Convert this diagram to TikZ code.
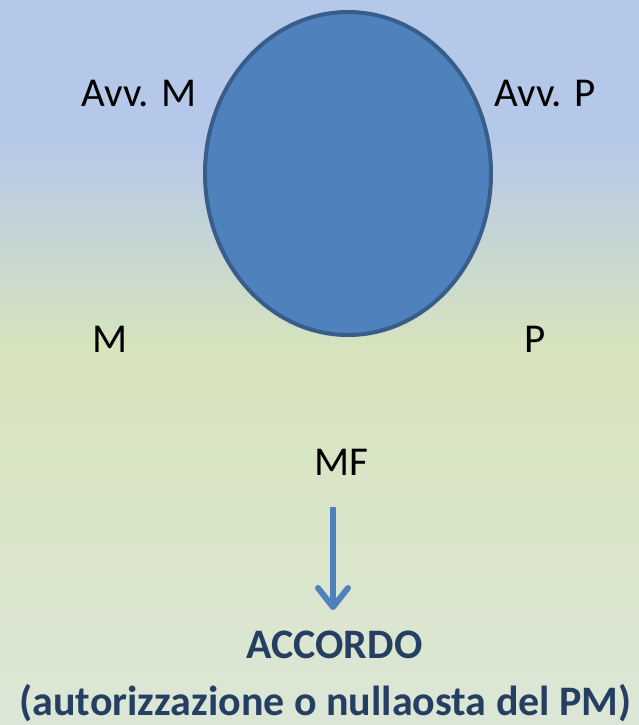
\documentclass[tikz,border=0pt]{standalone}
\usepackage{fontspec}
\setmainfont{Carlito}
\usetikzlibrary{shapes.geometric, arrows.meta, positioning}

\definecolor{bgtop}{HTML}{B6C8E9}
\definecolor{bgmid}{HTML}{D7E4BD}
\definecolor{bgbot}{HTML}{DCE6D6}
\definecolor{ovalfill}{HTML}{4F81BD}
\definecolor{ovaldraw}{HTML}{385D8A}
\definecolor{darktext}{HTML}{243F62}

\begin{document}
\begin{tikzpicture}[x=1pt, y=-1pt,
		lbl/.style={anchor=base, inner sep=0pt, font=\fontsize{41}{49}\selectfont},
		boldlbl/.style={lbl, text=darktext, font=\fontsize{42}{50}\selectfont\bfseries},
		oval/.style={ellipse, draw=ovaldraw, fill=ovalfill, line width=4pt},
		flow/.style={-{Straight Barb[length=19pt, width=30pt, line cap=round, line join=round]}, line width=6pt, draw=ovalfill},
		]

		% Background
		\useasboundingbox (0,0) rectangle (639,725);
		\fill[bgtop] (0,0) rectangle (639,141);
		\shade[top color=bgtop, bottom color=bgmid] (0,140) rectangle (639,351);
		\shade[top color=bgmid, bottom color=bgbot] (0,350) rectangle (639,725);

		% Oval
		\node[oval, minimum width=286, minimum height=323] (circle) at (348,173.5) {};

		% Labels
		\node[lbl] (avvm) at (139,106) {Avv. M};
		\node[lbl] (avvp) at (545,106) {Avv. P};
		\node[lbl] (m) at (110,352) {M};
		\node[lbl] (p) at (535,352) {P};
		\node[lbl] (mf) at (341,475) {MF};

		\node[boldlbl] (accordo) at (334.5,658) {ACCORDO};
		\node[boldlbl] (nullaosta) at (325.5,715) {(autorizzazione o nullaosta del PM)};

		% Arrow
		\coordinate (flowstart) at (333,507);
		\coordinate (flowend) at (333,610);
		\draw[flow] (flowstart) -- (flowend);
	\end{tikzpicture}
\end{document}
